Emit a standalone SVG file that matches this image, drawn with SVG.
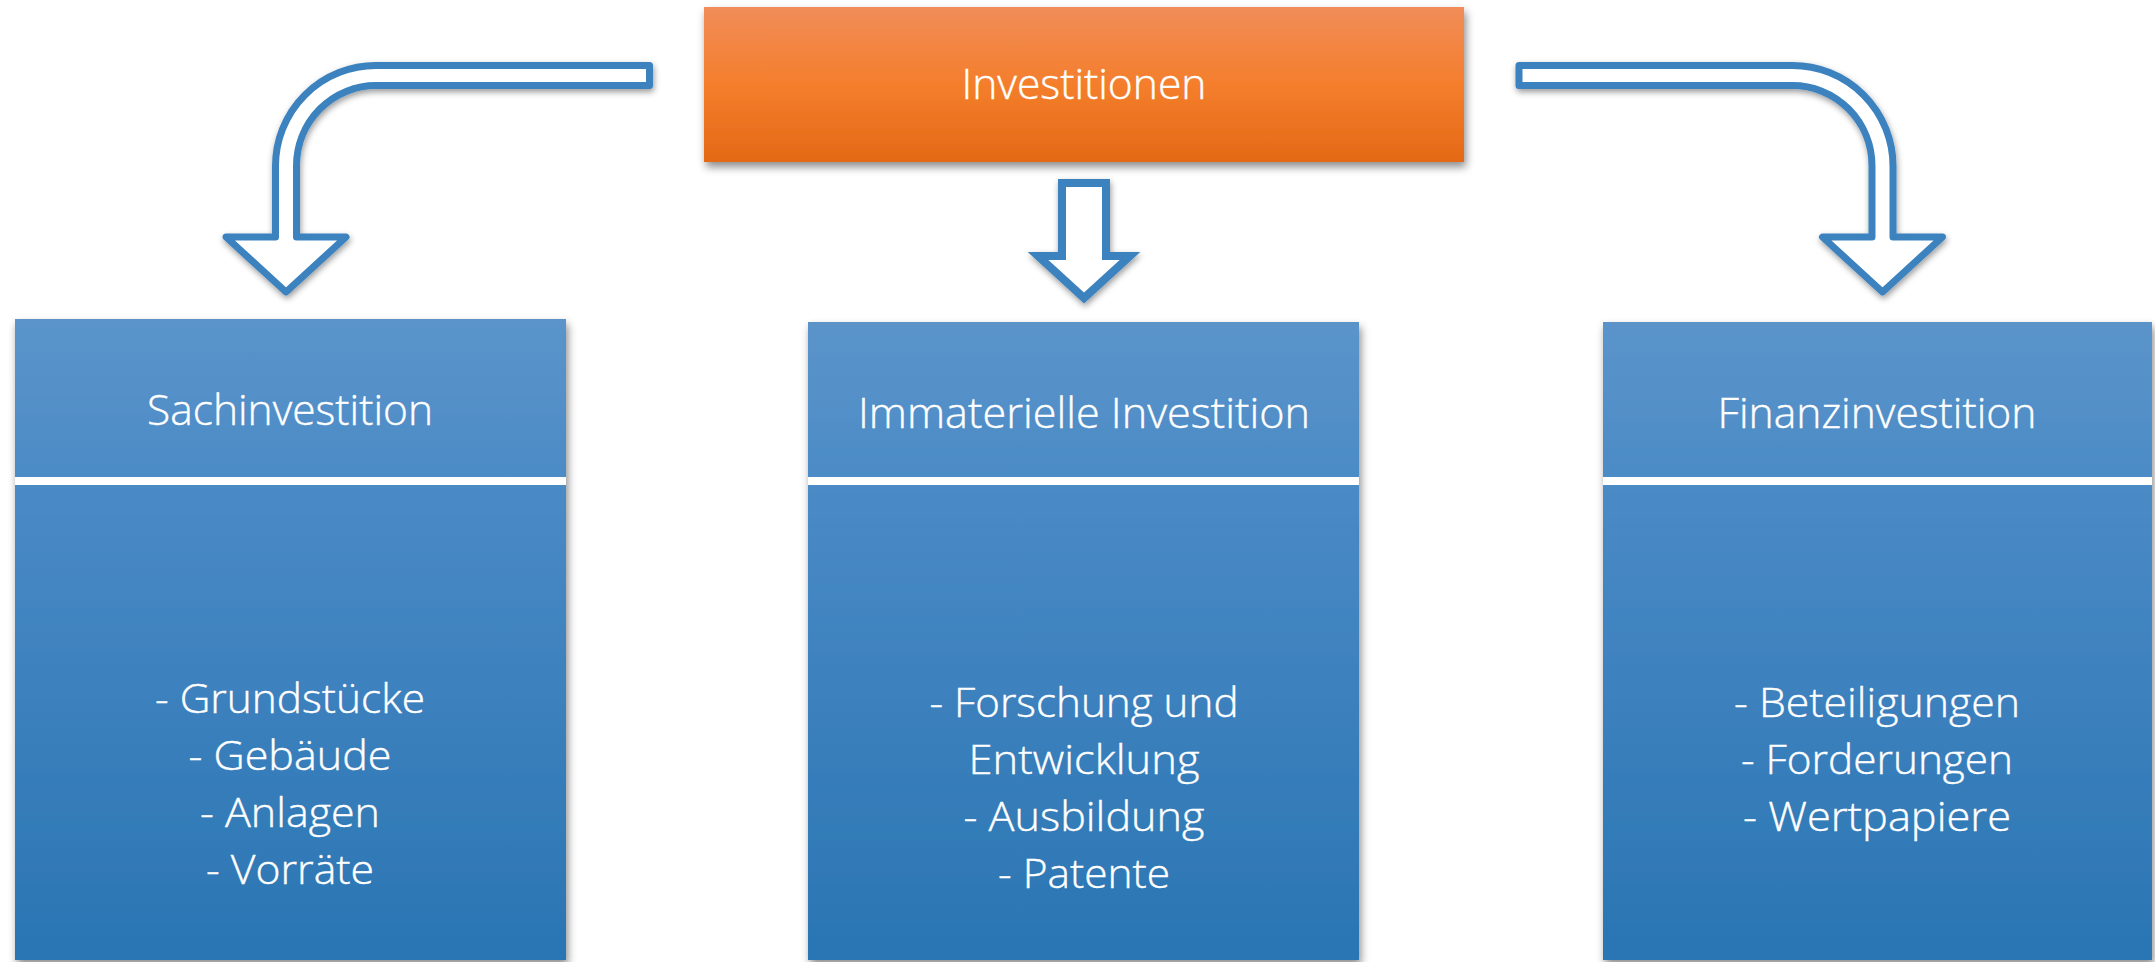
<svg xmlns="http://www.w3.org/2000/svg" width="2155" height="962" viewBox="0 0 2155 962">
  <defs>
    <linearGradient id="gOrange" x1="0" y1="0" x2="0" y2="1">
      <stop offset="0" stop-color="#F18D59"/>
      <stop offset="0.5" stop-color="#F47E2C"/>
      <stop offset="1" stop-color="#E46916"/>
    </linearGradient>
    <linearGradient id="gBlue" x1="0" y1="0" x2="0" y2="1">
      <stop offset="0" stop-color="#5B94CA"/>
      <stop offset="0.3" stop-color="#4889C5"/>
      <stop offset="1" stop-color="#2A75B3"/>
    </linearGradient>
    <filter id="shadow" x="-10%" y="-10%" width="120%" height="130%">
      <feDropShadow dx="2" dy="5" stdDeviation="4" flood-color="#000" flood-opacity="0.45"/>
    </filter>
    <filter id="ashadow" x="-20%" y="-20%" width="140%" height="140%">
      <feDropShadow dx="1" dy="3" stdDeviation="3" flood-color="#000" flood-opacity="0.4"/>
    </filter>
  </defs>
  <style>
    .txt { font-family: "Open Sans", "Liberation Sans", sans-serif; font-weight: 300; fill: #FFFFFF; text-anchor: middle; stroke: #FFFFFF; stroke-width: 0.4px; }
    .title { font-size: 42px; }
    .head { font-size: 43px; }
    .body { font-size: 41px; }
    .box { fill: url(#gBlue); filter: url(#shadow); }
    .divider { fill: #FFFFFF; }
    .arrow { fill: #FFFFFF; stroke: #3B82BF; filter: url(#ashadow); }
  </style>
  <rect x="0" y="0" width="2155" height="962" fill="#FFFFFF"/>

  <g id="connectors">
    <path class="arrow" stroke-width="7" stroke-linejoin="round" d="M649.5,65.5 L376,65.5 A100.5,100.5 0 0 0 275.5,166 L275.5,237 L226,237 L286,292 L346,237 L296.5,237 L296.5,166 A79.5,80.5 0 0 1 376,85.5 L649.5,85.5 Z"/>
    <path class="arrow" stroke-width="8" stroke-linejoin="miter" d="M1062,183 L1106,183 L1106,256 L1130,256 L1084,298 L1038,256 L1062,256 Z"/>
    <path class="arrow" stroke-width="7" stroke-linejoin="round" d="M1519,65.5 L1792.5,65.5 A100.5,100.5 0 0 1 1893,166 L1893,237 L1942.5,237 L1882.5,292 L1822.5,237 L1872,237 L1872,166 A79.5,80.5 0 0 0 1792.5,85.5 L1519,85.5 Z"/>
  </g>

  <g id="node-investitionen">
    <rect x="704" y="7" width="760" height="155" fill="url(#gOrange)" filter="url(#shadow)"/>
    <text class="txt title" x="1084" y="99" textLength="245" lengthAdjust="spacingAndGlyphs">Investitionen</text>
  </g>

  <g id="node-sachinvestition">
    <rect class="box" x="15" y="319" width="551" height="641"/>
    <rect class="divider" x="15" y="477" width="551" height="8"/>
    <text class="txt head" x="290" y="425" textLength="286" lengthAdjust="spacingAndGlyphs">Sachinvestition</text>
    <text class="txt body" x="290" y="713" textLength="270" lengthAdjust="spacingAndGlyphs">- Grundstücke</text>
    <text class="txt body" x="290" y="770" textLength="203" lengthAdjust="spacingAndGlyphs">- Gebäude</text>
    <text class="txt body" x="290" y="827" textLength="180" lengthAdjust="spacingAndGlyphs">- Anlagen</text>
    <text class="txt body" x="290" y="884" textLength="168" lengthAdjust="spacingAndGlyphs">- Vorräte</text>
  </g>

  <g id="node-immaterielle">
    <rect class="box" x="808" y="322" width="551" height="638"/>
    <rect class="divider" x="808" y="477" width="551" height="8"/>
    <text class="txt head" x="1084" y="428" textLength="452" lengthAdjust="spacingAndGlyphs">Immaterielle Investition</text>
    <text class="txt body" x="1084" y="717" textLength="309" lengthAdjust="spacingAndGlyphs">- Forschung und</text>
    <text class="txt body" x="1084" y="774" textLength="231" lengthAdjust="spacingAndGlyphs">Entwicklung</text>
    <text class="txt body" x="1084" y="831" textLength="241" lengthAdjust="spacingAndGlyphs">- Ausbildung</text>
    <text class="txt body" x="1084" y="888" textLength="172" lengthAdjust="spacingAndGlyphs">- Patente</text>
  </g>

  <g id="node-finanzinvestition">
    <rect class="box" x="1603" y="322" width="549" height="638"/>
    <rect class="divider" x="1603" y="477" width="549" height="8"/>
    <text class="txt head" x="1877" y="428" textLength="319" lengthAdjust="spacingAndGlyphs">Finanzinvestition</text>
    <text class="txt body" x="1877" y="717" textLength="286" lengthAdjust="spacingAndGlyphs">- Beteiligungen</text>
    <text class="txt body" x="1877" y="774" textLength="272" lengthAdjust="spacingAndGlyphs">- Forderungen</text>
    <text class="txt body" x="1877" y="831" textLength="268" lengthAdjust="spacingAndGlyphs">- Wertpapiere</text>
  </g>
</svg>
